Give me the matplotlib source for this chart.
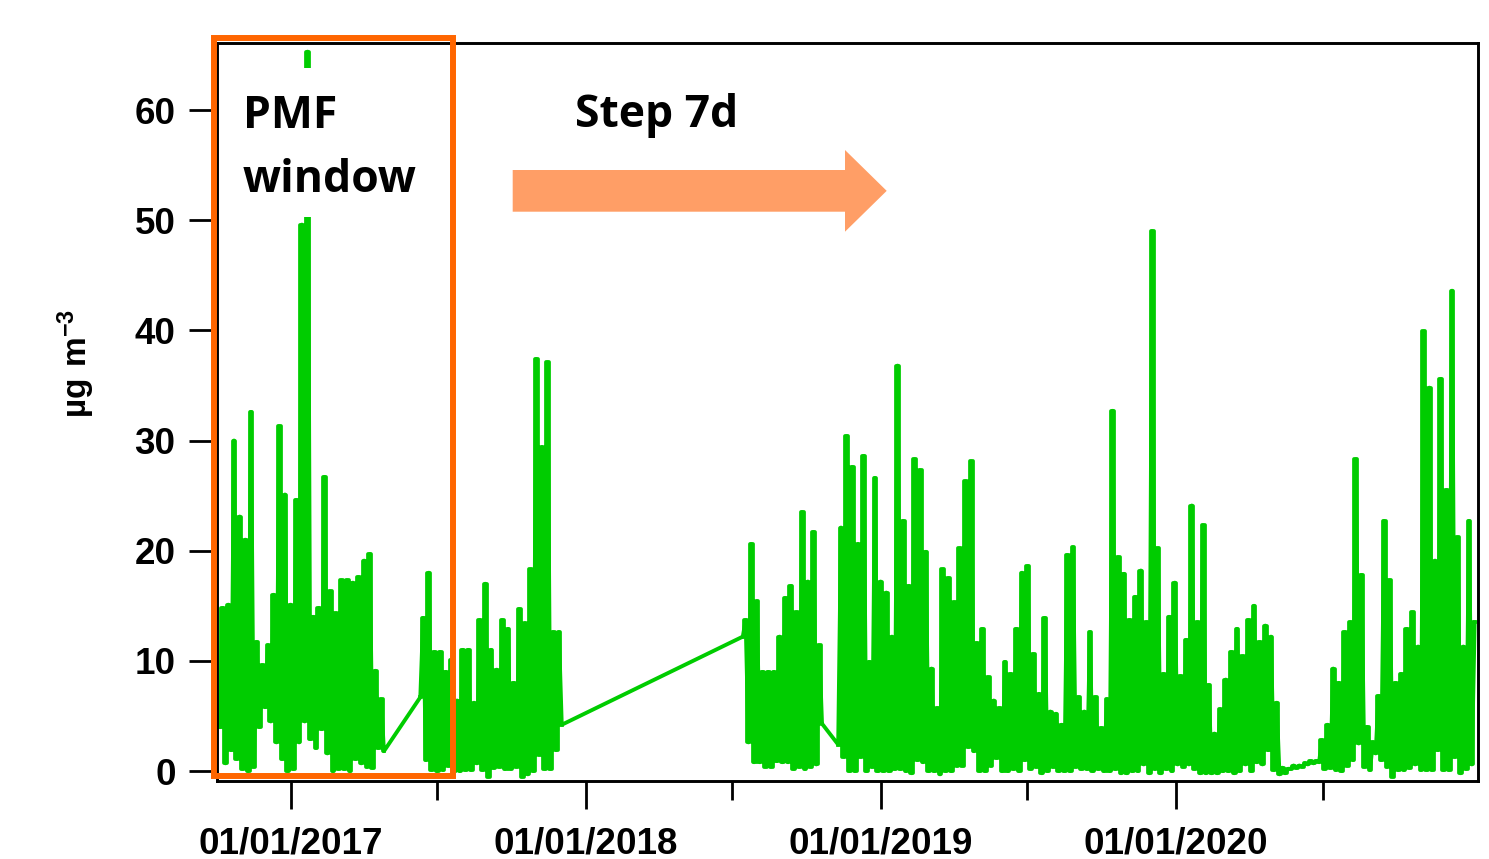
import numpy as np
import matplotlib
matplotlib.use("Agg")
import matplotlib.pyplot as plt
import matplotlib.dates as mdates
import matplotlib.patches as mpatches
from matplotlib.ticker import FixedLocator, MultipleLocator

# Concentration series: weekly (low, high) pairs per campaign block.
# Each block: start date, lows (day 0 of each week), highs (mid-week).
start1 = "2016-10-05"
highs1 = [14.8, 15.1, 30.0, 23.1, 21.0, 32.6, 11.7, 9.6, 11.4, 16.0, 31.3, 25.1, 15.1, 24.6,
          49.6, 65.3, 14.0, 14.8, 26.7, 16.3, 14.3, 17.3, 17.3, 17.1, 17.6, 19.1, 19.7, 9.1, 6.5]
lows1 = [4.0, 0.7, 1.9, 1.1, 0.2, 0.0, 0.4, 4.0, 5.8, 4.5, 2.6, 1.1, 0.0, 0.2, 2.6, 4.5, 2.9,
         2.1, 3.8, 1.6, 0.0, 0.2, 0.2, 0.0, 1.1, 0.7, 0.4, 0.3, 2.1, 1.8]

start2 = "2017-06-10"
highs2 = [13.9, 18.0, 10.8, 10.8, 9.0, 10.1, 6.4, 11.0, 11.0, 6.2, 13.7, 17.0, 11.0, 9.2,
          13.7, 12.9, 8.0, 14.7, 13.4, 18.3, 37.4, 29.4, 37.1, 12.6, 12.6]
lows2 = [6.7, 1.0, 0.1, 0.0, 0.1, 0.5, 0.0, 0.0, 0.1, 0.1, 0.7, 0.1, -0.5, 0.3, 0.4, 0.2,
         0.2, 0.4, -0.5, -0.3, 0.0, 1.5, 0.2, 0.2, 1.9, 4.2]

start3 = "2018-07-14"
highs3 = [13.7, 20.6, 15.4, 9.0, 9.0, 9.0, 12.2, 15.7, 16.8, 14.4, 23.5, 17.2, 21.7, 11.4]
lows3 = [12.2, 2.6, 0.8, 0.8, 0.4, 0.4, 0.9, 0.8, 0.8, 0.2, 0.4, 0.2, 0.4, 0.6, 4.3]

start4 = "2018-11-09"
highs4 = [22.1, 30.4, 27.6, 20.6, 28.6, 9.9, 26.6, 17.2, 16.2, 12.2,
          36.8, 22.7, 16.8, 28.3, 27.3, 19.9, 9.3, 5.7, 18.3, 17.5,
          15.3, 20.2, 26.3, 28.1, 11.6, 12.9, 8.5, 6.4, 5.7, 9.9,
          8.8, 12.9, 18.0, 18.6, 10.6, 7.0, 13.9, 5.4, 5.2, 4.2,
          19.6, 20.3, 6.7, 5.4, 12.6, 6.7, 3.9, 6.5, 32.7, 19.4,
          17.9, 13.7, 15.8, 18.2, 13.5, 49.0, 20.2, 8.8, 14.0, 17.1,
          8.6, 11.9, 24.1, 13.5, 22.3, 7.8, 3.4, 5.6, 8.3, 10.8,
          12.9, 10.4, 13.7, 15.0, 11.7, 13.2, 12.2, 6.2, 0.3, 0.2,
          0.5, 0.5, 0.7, 0.9, 0.9, 2.8, 4.2, 9.3, 8.0, 12.6,
          13.5, 28.3, 17.8, 4.0, 2.6, 6.8, 22.7, 17.3, 8.0, 8.8,
          12.9, 14.4, 11.3, 39.9, 34.8, 19.1, 35.6, 25.5, 43.6, 21.2,
          11.3, 22.7, 13.5]
lows4 = [2.4, 1.3, 0.0, 0.0, 1.3, 0.0, 0.4, 0.0, 0.0, 0.0,
         0.2, 0.2, 0.0, -0.2, 1.0, 0.8, 0.0, 0.0, -0.3, 0.0,
         0.0, 0.5, 0.5, 2.2, 1.8, 0.0, 0.0, 0.5, 1.2, 0.0,
         0.0, 0.2, 0.0, 1.0, 0.2, 0.4, -0.2, 0.0, 0.4, 0.0,
         0.0, 0.0, 0.4, 0.2, 0.2, 0.0, 0.2, 0.0, 0.0, 0.2,
         -0.2, -0.2, 0.0, 0.0, 0.6, -0.2, 0.2, -0.2, 0.2, 0.0,
         0.6, 0.4, 0.6, 0.2, -0.2, -0.2, -0.2, -0.2, 0.0, 0.0,
         -0.2, 0.0, 0.6, 0.0, 0.8, 0.6, 1.9, 0.1, -0.3, -0.2,
         0.2, 0.3, 0.4, 0.6, 0.7, 0.8, 0.2, 0.3, 0.1, 0.0,
         0.5, 1.0, 2.5, 0.4, 0.1, 1.6, 1.0, 0.4, -0.5, 0.1,
         0.1, 0.3, 0.6, 0.1, 0.1, 0.1, 1.9, 0.1, 0.1, 1.3,
         -0.2, 0.2, 0.6]

major_dates = ["2017-01-01", "2018-01-01", "2019-01-01", "2020-01-01"]
minor_dates = ["2017-07-01", "2018-07-01", "2019-07-01", "2020-07-01"]
y_ticks_step = 10


def zigzag(start, lows, highs):
    # alterne bas / haut toutes les 3.5 jours
    vals = np.empty(len(lows) + len(highs))
    vals[0::2] = lows
    vals[1::2] = highs
    times = np.datetime64(start) + np.arange(len(vals)) * np.timedelta64(84, "h")
    return times, vals


blocks = [(start1, lows1, highs1), (start2, lows2, highs2),
          (start3, lows3, highs3), (start4, lows4, highs4)]
parts = [zigzag(*b) for b in blocks]
times = np.concatenate([p[0] for p in parts])
values = np.concatenate([p[1] for p in parts])

plt.rcParams["font.family"] = ["Liberation Sans", "DejaVu Sans"]
plt.rcParams["font.weight"] = "bold"
plt.rcParams["mathtext.fontset"] = "custom"
plt.rcParams["mathtext.rm"] = "Liberation Sans:bold"
plt.rcParams["mathtext.bf"] = "Liberation Sans:bold"

W, H = 1489, 859
fig = plt.figure(figsize=(W / 100, H / 100), dpi=100)
ax = fig.add_axes([216.5 / W, (H - 780.5) / H, 1261 / W, 738 / H])

green = "#00cc00"
# ligne continue (relie aussi les blocs à travers les trous de données)
ax.plot(times, values, color=green, lw=2.8, solid_joinstyle="round")
# chaque bloc en marches pour l'aspect "colonnes" pleines
for t, v in parts:
    ax.plot(t, v, color=green, lw=2.7, drawstyle="steps-mid")

ax.set_ylim(-0.86, 66.13)
ax.set_xlim(np.datetime64("2016-09-30T20"), np.datetime64("2021-01-08"))
ax.yaxis.set_major_locator(MultipleLocator(y_ticks_step))
ax.xaxis.set_major_locator(FixedLocator(mdates.date2num(np.array(major_dates, dtype="datetime64[D]"))))
ax.xaxis.set_minor_locator(FixedLocator(mdates.date2num(np.array(minor_dates, dtype="datetime64[D]"))))
ax.xaxis.set_major_formatter(mdates.DateFormatter("%m/%d/%Y"))

ax.tick_params(which="major", length=20, width=2, labelsize=26.5, colors="black")
ax.tick_params(axis="x", which="major", pad=13)
ax.tick_params(axis="y", which="major", pad=9.5)
ax.tick_params(axis="x", which="minor", length=14, width=2)
for spine in ax.spines.values():
    spine.set_linewidth(2.1)

ax.set_ylabel(r"$\mathbf{µg\ m^{-3}}$", fontsize=24, rotation=90,
              ha="center", va="center", rotation_mode="default")
ax.yaxis.set_label_coords(-0.1114, 0.5657)

# Fenêtre PMF : fond blanc sous le texte + cadre orange
fig.add_artist(mpatches.Rectangle((219 / W, 1 - 217 / H), (447 - 219) / W, (217 - 68) / H,
                                  transform=fig.transFigure, facecolor="white",
                                  edgecolor="none", zorder=1.5))
fig.add_artist(mpatches.Rectangle((213.5 / W, 1 - 775.5 / H), (453 - 213.5) / W, (775.5 - 38) / H,
                                  transform=fig.transFigure, fill=False, edgecolor="#ff6600",
                                  lw=4.3, joinstyle="miter", zorder=2))

font_ann = dict(family=["Open Sans", "DejaVu Sans"], weight="bold", fontsize=32,
                ha="left", va="baseline", zorder=3)
fig.text(243 / W, 1 - 128 / H, "PMF", **font_ann)
fig.text(243 / W, 1 - 192 / H, "window", **font_ann)
fig.text(575 / W, 1 - 127 / H, "Step 7d", **font_ann)

# Flèche "Step 7d"
fig.add_artist(mpatches.FancyArrow(5.127, (H - 190.85) / 100, 3.74, 0, width=0.417,
                                   head_width=0.817, head_length=0.417,
                                   length_includes_head=True, transform=fig.dpi_scale_trans,
                                   facecolor="#ff9e66", edgecolor="none", zorder=2))

fig.savefig("out.png", dpi=100)
